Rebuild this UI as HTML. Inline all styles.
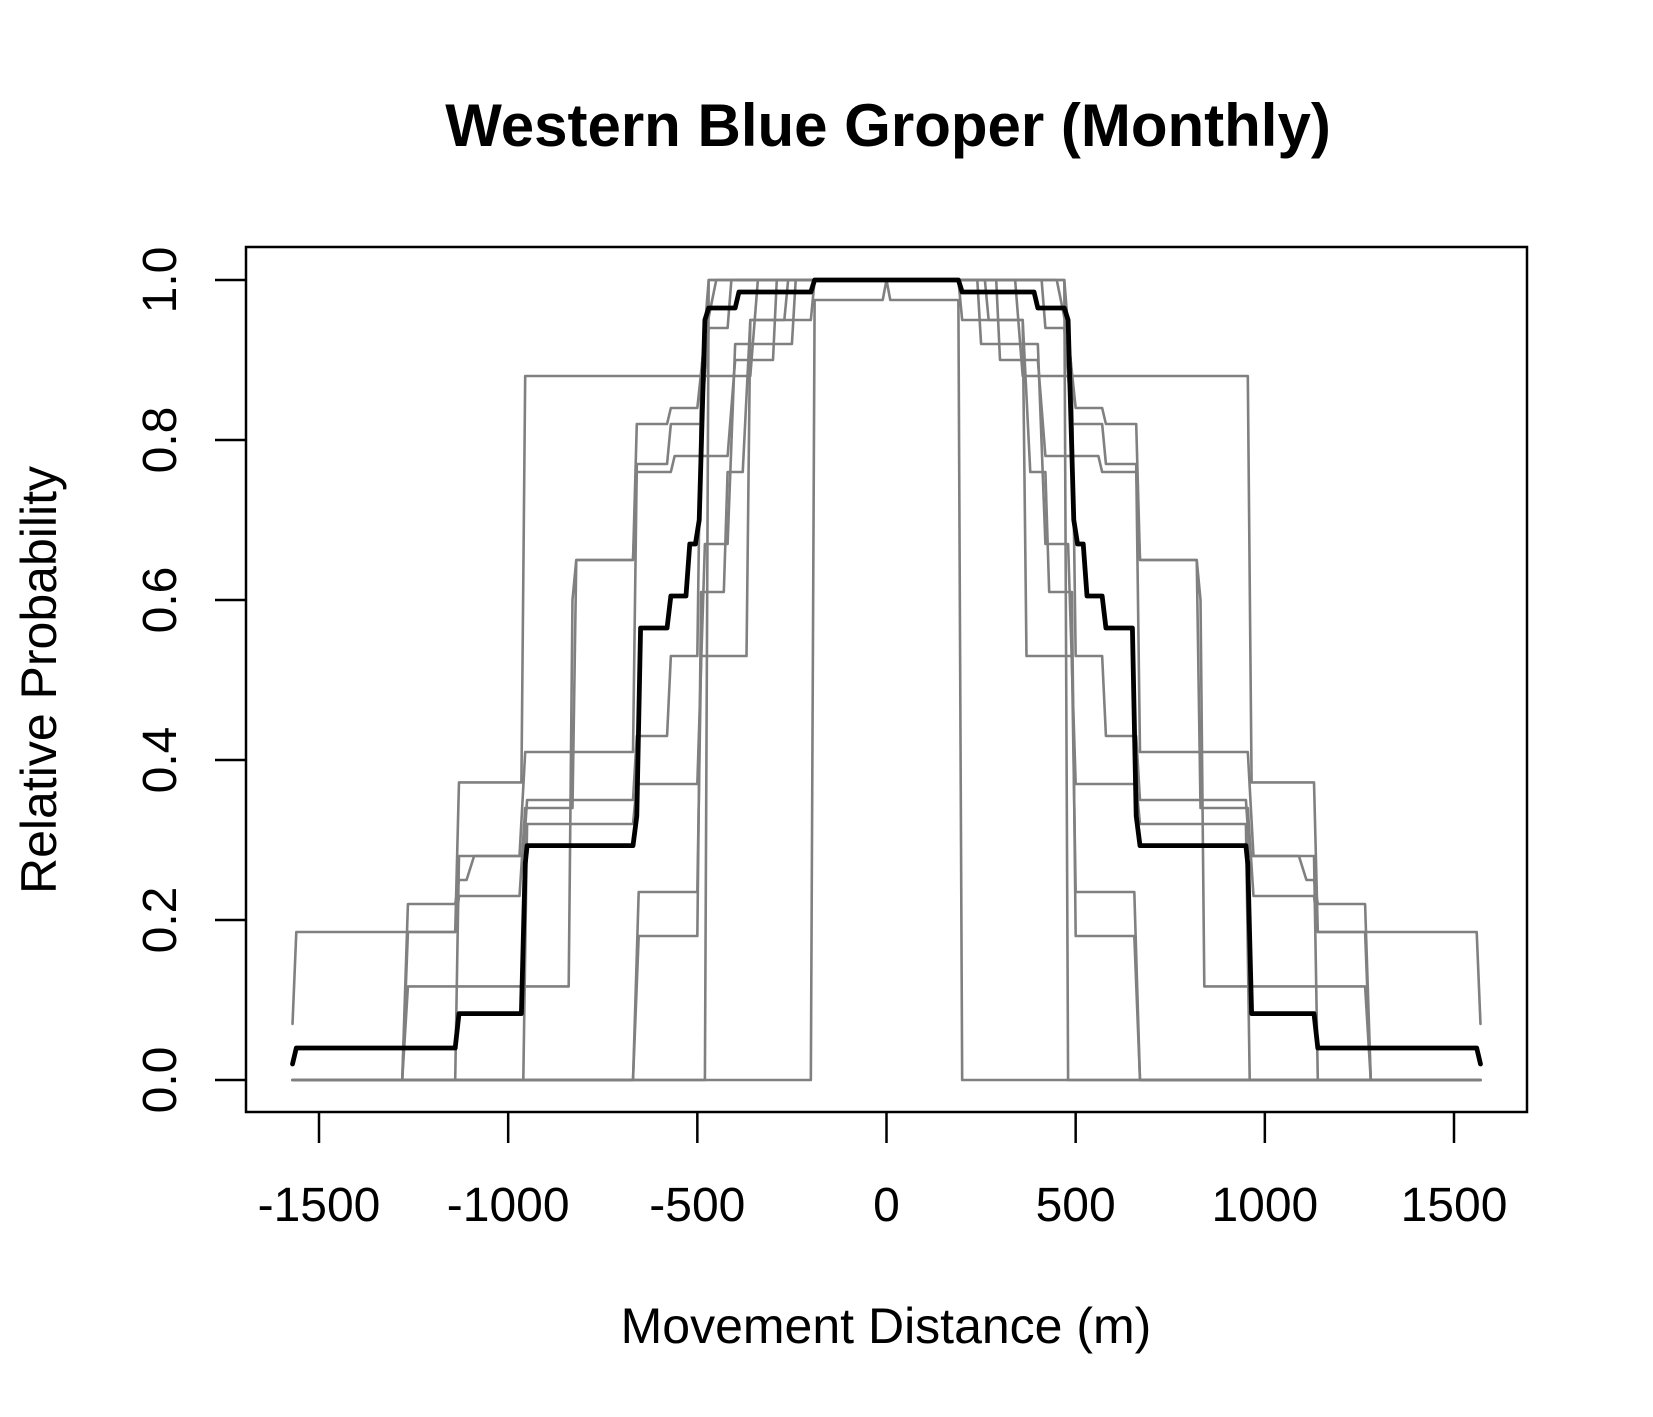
<!DOCTYPE html>
<html><head><meta charset="utf-8"><style>
html,body{margin:0;padding:0;background:#fff;}
svg{display:block;font-family:"Liberation Sans",Arial,sans-serif;}
</style></head><body>
<svg id="chart" width="1653" height="1417" viewBox="0 0 1653 1417">
<text x="888" y="146" text-anchor="middle" font-size="60" font-weight="bold">Western Blue Groper (Monthly)</text>
<g id="series"></g>
<rect x="246" y="247" width="1281" height="865" fill="none" stroke="#000" stroke-width="2.5"/>
<g id="xaxis"></g>
<g id="yaxis"></g>
<text x="886" y="1343" text-anchor="middle" font-size="50">Movement Distance (m)</text>
<text transform="translate(56,680) rotate(-90)" text-anchor="middle" font-size="50">Relative Probability</text>
</svg>
<script>
const xTicks = [-1500,-1000,-500,0,500,1000,1500];
const yTicks = [0,0.2,0.4,0.6,0.8,1.0];
const yTickLabels = ["0.0","0.2","0.4","0.6","0.8","1.0"];
// left halves of each curve (mirrored for right side); [distance, probability]
const grayS1 = [[-1570,0.07],[-1560,0.185],[-1140,0.185],[-1130,0.372],[-965,0.372],[-955,0.88],[-490,0.88],[-470,1.0],[0,1.0]];
const grayS2 = [[-1570,0],[-1280,0],[-1265,0.22],[-1140,0.22],[-1130,0.25],[-1110,0.25],[-1090,0.28],[-970,0.28],[-955,0.41],[-670,0.41],[-660,0.77],[-580,0.77],[-570,0.82],[-490,0.82],[-470,0.94],[-420,0.94],[-410,1.0],[0,1.0]];
const grayS3 = [[-1570,0],[-1280,0],[-1265,0.185],[-1140,0.185],[-1130,0.23],[-970,0.23],[-955,0.34],[-830,0.34],[-820,0.65],[-670,0.65],[-660,0.82],[-580,0.82],[-570,0.84],[-500,0.84],[-480,0.93],[-450,1.0],[0,1.0]];
const grayS4 = [[-1570,0],[-1280,0],[-1265,0.117],[-840,0.117],[-830,0.6],[-820,0.65],[-670,0.65],[-660,0.76],[-570,0.76],[-560,0.78],[-420,0.78],[-400,0.9],[-300,0.9],[-290,1.0],[0,1.0]];
const grayS5 = [[-1570,0],[-1140,0],[-1130,0.28],[-960,0.28],[-950,0.35],[-670,0.35],[-660,0.43],[-580,0.43],[-570,0.53],[-500,0.53],[-490,0.88],[-360,0.88],[-340,1.0],[0,1.0]];
const grayS6 = [[-1570,0],[-960,0],[-950,0.32],[-670,0.32],[-660,0.37],[-500,0.37],[-480,0.67],[-420,0.67],[-400,0.92],[-250,0.92],[-240,1.0],[0,1.0]];
const grayS7 = [[-1570,0],[-670,0],[-655,0.235],[-500,0.235],[-490,0.53],[-370,0.53],[-360,0.95],[-200,0.95],[-190,1.0],[0,1.0]];
const grayS8 = [[-1570,0],[-670,0],[-655,0.18],[-500,0.18],[-490,0.61],[-430,0.61],[-420,0.76],[-380,0.76],[-360,0.95],[-270,0.95],[-260,1.0],[0,1.0]];
const grayS9 = [[-1570,0],[-480,0],[-470,1.0],[0,1.0]];
const grayS10 = [[-1570,0],[-200,0],[-190,0.975],[-10,0.975],[0,1.0]];
const graySeries = [grayS1,grayS2,grayS3,grayS4,grayS5,grayS6,grayS7,grayS8,grayS9,grayS10];
const meanCurve = [[-1570,0.02],[-1560,0.04],[-1140,0.04],[-1130,0.083],[-965,0.083],[-955,0.27],[-950,0.293],[-670,0.293],[-660,0.33],[-650,0.565],[-580,0.565],[-570,0.605],[-530,0.605],[-520,0.67],[-505,0.67],[-495,0.70],[-480,0.95],[-470,0.965],[-400,0.965],[-390,0.985],[-200,0.985],[-190,1.0],[0,1.0]];

const NS="http://www.w3.org/2000/svg";
function xs(v){return 886.5+v*(1454-319)/3000;}
function ys(v){return 1080-v*(1080-280);}
function full(h){const r=h.slice();for(let i=h.length-1;i>=0;i--){if(h[i][0]!==0)r.push([-h[i][0],h[i][1]]);}return r;}
const sg=document.getElementById('series');
function draw(h,color,w,name){
  const p=document.createElementNS(NS,'polyline');
  p.setAttribute('points',full(h).map(d=>xs(d[0])+','+ys(d[1])).join(' '));
  p.setAttribute('fill','none');p.setAttribute('stroke',color);p.setAttribute('stroke-width',w);
  p.setAttribute('stroke-linejoin','round');p.setAttribute('stroke-linecap','round');
  
  
  sg.appendChild(p);
}
graySeries.forEach((s,i)=>draw(s,'#808080',2.6,'gray-series-'+(i+1)));
draw(meanCurve,'#000',4.8,'mean-curve');
const xa=document.getElementById('xaxis');
xTicks.forEach(t=>{
  const l=document.createElementNS(NS,'line');
  l.setAttribute('x1',xs(t));l.setAttribute('x2',xs(t));l.setAttribute('y1',1112);l.setAttribute('y2',1143);
  l.setAttribute('stroke','#000');l.setAttribute('stroke-width',2.5);
  
  
  xa.appendChild(l);
  const tx=document.createElementNS(NS,'text');
  tx.setAttribute('x',xs(t));tx.setAttribute('y',1221);tx.setAttribute('text-anchor','middle');tx.setAttribute('font-size','48');
  tx.textContent=String(t);
  
  
  xa.appendChild(tx);
});
const ya=document.getElementById('yaxis');
yTicks.forEach((t,i)=>{
  const l=document.createElementNS(NS,'line');
  l.setAttribute('x1',215);l.setAttribute('x2',246);l.setAttribute('y1',ys(t));l.setAttribute('y2',ys(t));
  l.setAttribute('stroke','#000');l.setAttribute('stroke-width',2.5);
  
  
  ya.appendChild(l);
  const tx=document.createElementNS(NS,'text');
  tx.setAttribute('transform','translate(176,'+ys(t)+') rotate(-90)');tx.setAttribute('text-anchor','middle');tx.setAttribute('font-size','48');
  tx.textContent=yTickLabels[i];
  
  
  ya.appendChild(tx);
});
</script>
</body></html>
